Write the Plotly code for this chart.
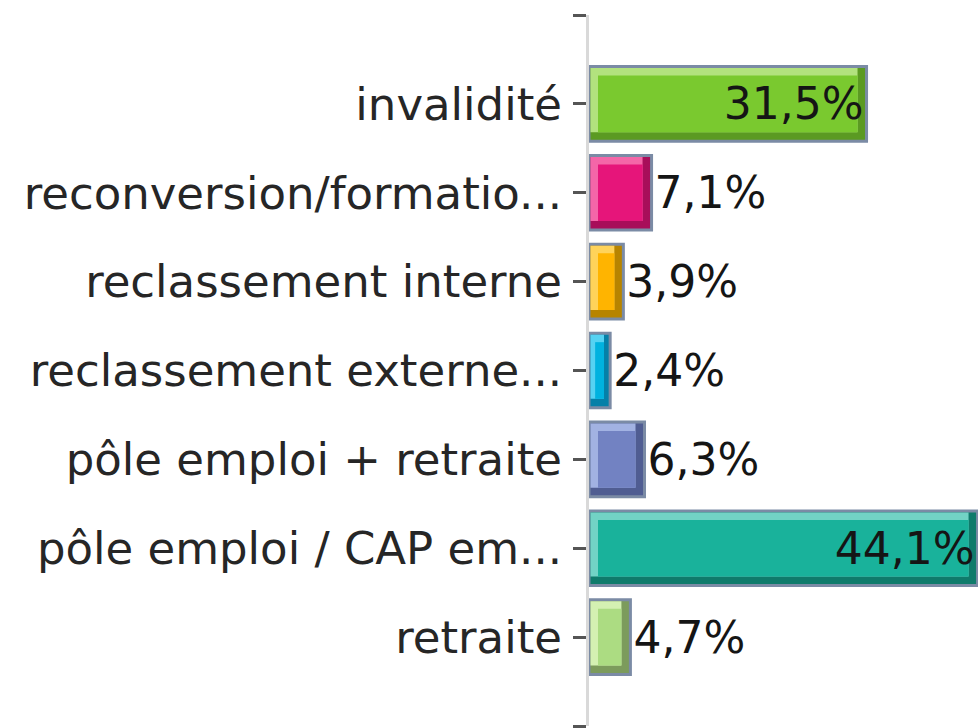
import plotly.graph_objects as go

# ---- data ----
categories = [
    "invalidité",
    "reconversion/formatio...",
    "reclassement interne",
    "reclassement externe...",
    "pôle emploi + retraite",
    "pôle emploi / CAP em...",
    "retraite",
]
values = [31.5, 7.1, 3.9, 2.4, 6.3, 44.1, 4.7]
label_positions = ["inside", "outside", "outside", "outside", "outside", "inside", "outside"]

colors_main = ["#7ac92f", "#e6157a", "#ffb400", "#00b2df", "#7282c2", "#19b29b", "#acdc82"]
colors_light = ["#b2e27e", "#f466a8", "#ffd35a", "#55d2f2", "#a2b2e2", "#72d3c5", "#d4f1b2"]
colors_dark = ["#5b9a22", "#a80e5a", "#b78400", "#0580a8", "#505d92", "#0f7b6b", "#7c9b5c"]

# ---- geometry (styling) ----
W, H = 978, 728
L, R, T, B = 589, 0, 15, 2
XMAX = 44.15
YMIN, YMAX = -1, 7
xpx = (W - L - R) / XMAX
ypx = (H - T - B) / (YMAX - YMIN)
BAR = 0.84
INSET = 1.5
STRIP = 7.5

ex = INSET / xpx
ey = INSET / ypx
sy = STRIP / ypx
sx = [min(STRIP, 0.22 * v * xpx) / xpx for v in values]

value_text = [f"{v:.1f}%".replace(".", ",") for v in values]
font_family = "DejaVu Sans"

fig = go.Figure()

# outer bar (dark shade + border)
fig.add_trace(go.Bar(
    y=categories, x=values, orientation="h",
    width=BAR, offset=-BAR / 2,
    marker=dict(color=colors_dark, line=dict(color="#7b8ba5", width=3)),
    hoverinfo="skip",
))
# light bevel (top/left)
fig.add_trace(go.Bar(
    y=categories, x=[v - 2 * ex - s for v, s in zip(values, sx)], base=ex,
    orientation="h",
    width=BAR - 2 * ey - sy, offset=-BAR / 2 + ey,
    marker=dict(color=colors_light, line=dict(width=0)),
    hoverinfo="skip",
))
# main face
fig.add_trace(go.Bar(
    y=categories, x=[v - 2 * ex - 2 * s for v, s in zip(values, sx)],
    base=[ex + s for s in sx],
    orientation="h",
    width=BAR - 2 * ey - 2 * sy, offset=-BAR / 2 + ey + sy,
    marker=dict(color=colors_main, line=dict(width=0)),
    hoverinfo="skip",
))
# transparent carrier for value labels
fig.add_trace(go.Bar(
    y=categories, x=values, orientation="h",
    width=BAR, offset=-BAR / 2,
    marker=dict(color="rgba(0,0,0,0)", line=dict(width=0)),
    text=value_text, textposition=label_positions,
    insidetextanchor="end", textangle=0,
    textfont=dict(family=font_family, size=44, color="#151515"),
    cliponaxis=False,
    hoverinfo="skip",
))

fig.update_layout(
    width=W, height=H,
    margin=dict(l=L, r=R, t=T, b=B, pad=0),
    barmode="overlay",
    showlegend=False,
    hovermode=False,
    paper_bgcolor="white",
    plot_bgcolor="white",
    xaxis=dict(
        range=[0, XMAX], visible=False, showgrid=False, zeroline=False,
        fixedrange=True,
    ),
    yaxis=dict(
        type="category",
        categoryorder="array", categoryarray=categories,
        range=[YMAX, YMIN], autorange=False,
        tickmode="array",
        tickvals=[YMIN] + list(range(len(categories))) + [YMAX],
        ticktext=[""] + categories + [""],
        ticks="outside", ticklen=13, tickwidth=3, tickcolor="#555555",
        showline=True, linecolor="#d9d9d9", linewidth=3,
        showgrid=False, zeroline=False,
        tickfont=dict(family=font_family, size=45, color="#262626"),
        ticklabelstandoff=2,
        fixedrange=True,
        automargin=False,
    ),
)

fig.write_html(
    "out.html",
    config={"displayModeBar": False},
    post_script="document.body.style.margin='0';document.body.style.overflow='hidden';",
)
